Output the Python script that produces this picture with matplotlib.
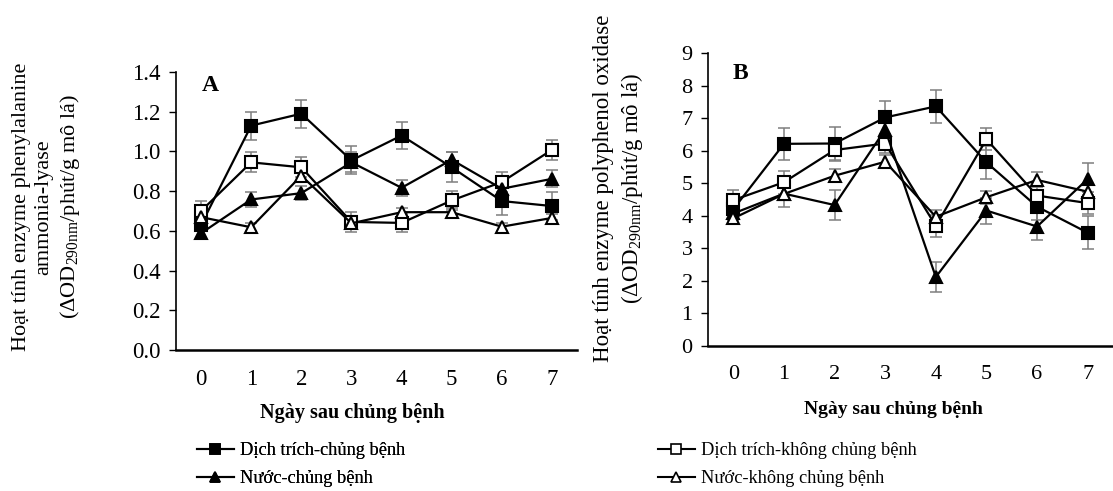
import matplotlib
matplotlib.use("Agg")
import matplotlib.pyplot as plt
from matplotlib.lines import Line2D

plt.rcParams['font.family'] = ['Liberation Serif', 'DejaVu Serif']
plt.rcParams['mathtext.fontset'] = 'custom'
plt.rcParams['mathtext.rm'] = 'Liberation Serif'
plt.rcParams['mathtext.it'] = 'Liberation Serif:italic'

days = [0, 1, 2, 3, 4, 5, 6, 7]
series_names = ["Dịch trích-chủng bệnh", "Dịch trích-không chủng bệnh",
                "Nước-chủng bệnh", "Nước-không chủng bệnh"]

# Panel A: phenylalanine ammonia-lyase
a_dt_cb = [0.63, 1.13, 1.19, 0.955, 1.08, 0.92, 0.75, 0.725]
a_dt_cb_err = [0.03, 0.07, 0.07, 0.07, 0.07, 0.075, 0.07, 0.07]
a_dt_kcb = [0.70, 0.945, 0.92, 0.645, 0.64, 0.753, 0.846, 1.008]
a_dt_kcb_err = [0.05, 0.05, 0.05, 0.05, 0.045, 0.05, 0.05, 0.05]
a_n_cb = [0.588, 0.758, 0.79, 0.945, 0.817, 0.958, 0.812, 0.862]
a_n_cb_err = [0.03, 0.04, 0.035, 0.05, 0.04, 0.04, 0.04, 0.042]
a_n_kcb = [0.669, 0.618, 0.878, 0.638, 0.694, 0.694, 0.621, 0.665]
a_n_kcb_err = [0.02, 0.02, 0.03, 0.02, 0.02, 0.02, 0.02, 0.02]

# Panel B: polyphenol oxidase
b_dt_cb = [4.20, 6.21, 6.22, 7.02, 7.36, 5.64, 4.28, 3.48]
b_dt_cb_err = [0.3, 0.5, 0.5, 0.5, 0.5, 0.5, 0.4, 0.5]
b_dt_kcb = [4.48, 5.03, 6.02, 6.22, 3.69, 6.35, 4.62, 4.39]
b_dt_kcb_err = [0.3, 0.36, 0.33, 0.3, 0.33, 0.34, 0.33, 0.35]
b_n_cb = [4.07, 4.68, 4.33, 6.65, 2.12, 4.16, 3.67, 5.13]
b_n_cb_err = [0.2, 0.4, 0.45, 0.4, 0.45, 0.4, 0.42, 0.48]
b_n_kcb = [3.92, 4.67, 5.23, 5.66, 3.97, 4.57, 5.10, 4.74]
b_n_kcb_err = [0.15, 0.2, 0.2, 0.2, 0.2, 0.2, 0.23, 0.2]

a_yticks = [0.0, 0.2, 0.4, 0.6, 0.8, 1.0, 1.2, 1.4]
a_yticklabels = ["0.0", "0.2", "0.4", "0.6", "0.8", "1.0", "1.2", "1.4"]
b_yticks = [0, 1, 2, 3, 4, 5, 6, 7, 8, 9]

styles = [
    dict(marker='s', mfc='black', ms=8.5),
    dict(marker='s', mfc='white', ms=8.5),
    dict(marker='^', mfc='black', ms=9),
    dict(marker='^', mfc='white', ms=9),
]

W, H = 1113, 491
fig = plt.figure(figsize=(W / 100, H / 100), dpi=100)

def px_axes(left, right, bottom, top):
    return fig.add_axes([left / W, 1 - bottom / H, (right - left) / W, (bottom - top) / H])

axA = px_axes(176, 577, 350, 72)
axB = px_axes(708, 1113, 346, 53)

def draw(ax, data, errs, ylim, yticks, yticklabels, tick_fs):
    for y, e, st in zip(data, errs, styles):
        ax.errorbar(days, y, yerr=e, fmt='none', ecolor='#7f7f7f',
                    elinewidth=1.1, capsize=4, capthick=1.1, zorder=2)
    for y, st in zip(data, styles):
        ax.plot(days, y, color='black', lw=1.6, marker=st['marker'],
                mfc=st['mfc'], mec='black', mew=1.5, ms=st['ms'], zorder=3)
    ax.set_ylim(*ylim)
    ax.set_xlim(-0.5, 7.5)
    ax.set_yticks(yticks)
    ax.set_yticklabels(yticklabels, fontsize=tick_fs)
    ax.set_xticks(days)
    ax.set_xticklabels([str(d) for d in days], fontsize=tick_fs)
    ax.tick_params(axis='x', length=0, pad=14)
    ax.tick_params(axis='y', length=5, width=1, direction='out', pad=6)
    for s in ['top', 'right']:
        ax.spines[s].set_visible(False)
    ax.spines['left'].set_linewidth(1.2)
    ax.spines['bottom'].set_linewidth(1.8)

draw(axA, [a_dt_cb, a_dt_kcb, a_n_cb, a_n_kcb],
     [a_dt_cb_err, a_dt_kcb_err, a_n_cb_err, a_n_kcb_err],
     (0, 1.4), a_yticks, a_yticklabels, 16.5)
draw(axB, [b_dt_cb, b_dt_kcb, b_n_cb, b_n_kcb],
     [b_dt_cb_err, b_dt_kcb_err, b_n_cb_err, b_n_kcb_err],
     (0, 9), b_yticks, [str(v) for v in b_yticks], 16)

axA.text(0.18, 1.33, "A", fontsize=17, fontweight='bold', ha='center', va='center')
axB.text(0.15, 8.38, "B", fontsize=17, fontweight='bold', ha='center', va='center')

fig.text(47 / W, 1 - 207 / H,
         "Hoạt tính enzyme phenylalanine\nammonia-lyase\n(ΔOD$_{\\mathrm{290nm}}$/phút/g mô lá)",
         rotation=90, ha='center', va='center', multialignment='center', fontsize=16,
         linespacing=1.25)
fig.text(619 / W, 1 - 188 / H,
         "Hoạt tính enzyme polyphenol oxidase\n(ΔOD$_{\\mathrm{290nm}}$/phút/g mô lá)",
         rotation=90, ha='center', va='center', multialignment='center', fontsize=16.5,
         linespacing=1.25)

fig.text(352 / W, 1 - 413 / H, "Ngày sau chủng bệnh", fontsize=14.5, fontweight='bold',
         ha='center', va='center')
fig.text(893 / W, 1 - 409 / H, "Ngày sau chủng bệnh", fontsize=14, fontweight='bold',
         ha='center', va='center')

handles = [Line2D([], [], color='black', lw=1.5, marker=st['marker'], mfc=st['mfc'],
                  mec='black', mew=1.2, ms=6.5) for st in styles]

leg_kw = dict(loc='upper left', frameon=False, fontsize=13.2, handlelength=2.0,
              handletextpad=0.35, labelspacing=0.6, borderaxespad=0, borderpad=0)
leg1 = fig.legend([handles[0], handles[2]], [series_names[0], series_names[2]],
                  bbox_to_anchor=(197 / W, 1 - 442 / H), **leg_kw)
leg2 = fig.legend([handles[1], handles[3]], [series_names[1], series_names[3]],
                  bbox_to_anchor=(658 / W, 1 - 442 / H), **leg_kw)
fig.add_artist(leg1)

fig.savefig("out.png", dpi=100)
